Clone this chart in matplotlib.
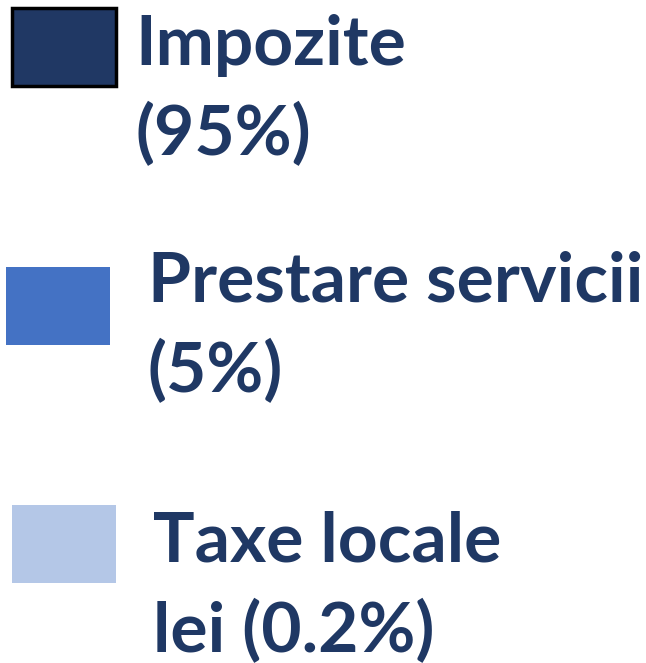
import matplotlib.pyplot as plt
from matplotlib.patches import Rectangle

# legend entries of the revenue pie
etichete = ['Impozite\n(95%)', 'Prestare servicii\n(5%)', 'Taxe locale\nlei (0.2%)']
culori = ['#203864', '#4472C4', '#B4C7E7']
contur = ['black', 'none', 'none']
culoare_text = '#1F3864'

fig = plt.figure(figsize=(6.46, 6.63), dpi=100)
ax = fig.add_axes([0, 0, 1, 1])
ax.set_xlim(0, 646)
ax.set_ylim(663, 0)
ax.axis('off')

# square positions (x, y top) and text positions (x, first baseline)
patrate = [(12, 8), (6, 267), (12, 505)]
texte = [(135, 65), (148, 302), (153, 562)]
spatiere = 90

for i, eticheta in enumerate(etichete):
    x, y = patrate[i]
    ax.add_patch(Rectangle((x, y), 104, 78, facecolor=culori[i],
                           edgecolor=contur[i], linewidth=2.5))
    tx, ty = texte[i]
    for j, linie in enumerate(eticheta.split('\n')):
        ax.text(tx, ty + j * spatiere, linie, fontsize=50, fontweight='bold',
                family='Lato', color=culoare_text, va='baseline', ha='left')

plt.savefig('out.png', dpi=100)
